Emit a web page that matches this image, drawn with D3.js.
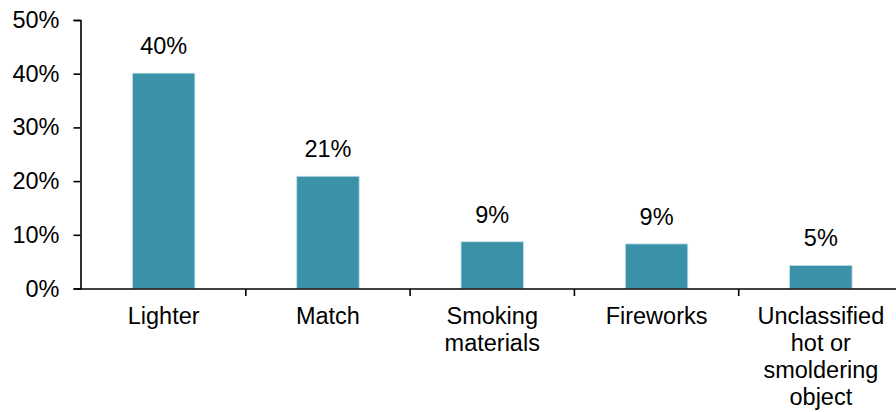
<!DOCTYPE html>
<html>
<head>
<meta charset="utf-8">
<script src="https://cdn.jsdelivr.net/npm/d3@7"></script>
<style>
  body { margin: 0; background: #fff; }
  svg text { font-family: "Liberation Sans", Arial, sans-serif; fill: #000; }
  .axis path, .axis line { stroke: #000; stroke-width: 1.6; }
</style>
</head>
<body>
<div id="chart"></div>
<script>
const categories = ["Lighter", "Match", "Smoking materials", "Fireworks", "Unclassified hot or smoldering object"];
const shares = [40.1, 20.9, 8.7, 8.3, 4.3];
const shareLabels = ["40%", "21%", "9%", "9%", "5%"];
const yTicks = [0, 10, 20, 30, 40, 50];
// how the category names break onto lines
const wrapped = [["Lighter"], ["Match"], ["Smoking", "materials"], ["Fireworks"], ["Unclassified", "hot or", "smoldering", "object"]];

const width = 896, height = 412;
const fontSize = 23.5;
const svg = d3.select("#chart").append("svg").attr("width", width).attr("height", height);

const xScale = d3.scaleBand().domain(categories).range([81.5, 903]).paddingInner(0.62).paddingOuter(0.31);
const yScale = d3.scaleLinear().domain([0, 50]).range([288.5, 20]);

// y axis
svg.append("g").attr("class", "axis --axis-y").attr("transform", "translate(80.5,0)")
  .call(d3.axisLeft(yScale).tickValues(yTicks).tickSize(7).tickPadding(14).tickFormat(d => d + "%"))
  .call(g => g.attr("font-size", null).selectAll("text").attr("font-size", fontSize));

// bars
svg.selectAll("rect.bar").data(categories).enter().append("rect").attr("class", "bar")
  .attr("x", d => xScale(d))
  .attr("width", xScale.bandwidth())
  .attr("y", (d, i) => yScale(shares[i]))
  .attr("height", (d, i) => yScale(0) - yScale(shares[i]))
  .attr("fill", "#3a91a8").attr("stroke", "#bfe0e8").attr("stroke-width", 0.8);

// value labels
svg.selectAll("text.label").data(categories).enter().append("text").attr("class", "label")
  .attr("x", d => xScale(d) + xScale.bandwidth() / 2)
  .attr("y", (d, i) => yScale(shares[i]) - 19)
  .attr("text-anchor", "middle").attr("font-size", fontSize)
  .text((d, i) => shareLabels[i]);

// x axis line + separator ticks between categories
const gap = (xScale.step() - xScale.bandwidth()) / 2;
const xAxis = svg.append("g").attr("class", "axis --axis-x");
xAxis.append("line").attr("x1", 80.5).attr("x2", width).attr("y1", 289).attr("y2", 289);
xAxis.selectAll("line.sep").data(categories.slice(1)).enter().append("line").attr("class", "sep")
  .attr("x1", d => xScale(d) - gap)
  .attr("x2", d => xScale(d) - gap)
  .attr("y1", 289).attr("y2", 296);

// category labels
const catLabels = svg.selectAll("text.cat").data(categories).enter().append("text").attr("class", "cat")
  .attr("text-anchor", "middle").attr("font-size", fontSize)
  .attr("transform", d => "translate(" + (xScale(d) + xScale.bandwidth() / 2) + ",324)");
catLabels.each(function(d, i) {
  d3.select(this).selectAll("tspan").data(wrapped[i]).enter().append("tspan")
    .attr("x", 0).attr("y", (t, j) => j * 27).text(t => t);
});
</script>
</body>
</html>
